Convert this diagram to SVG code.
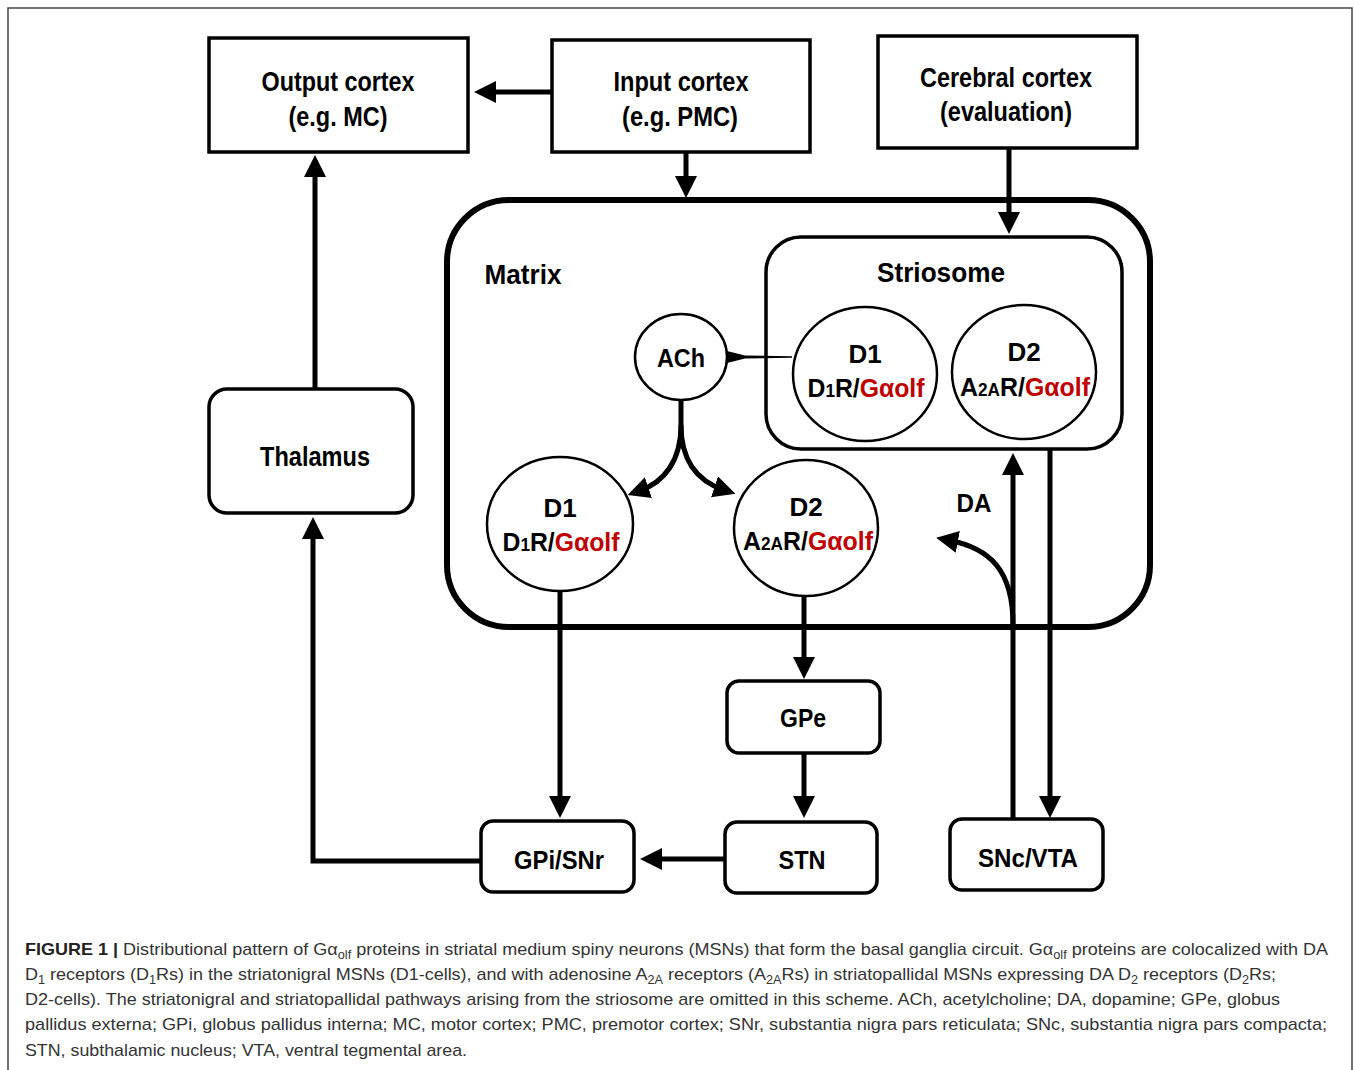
<svg xmlns="http://www.w3.org/2000/svg" width="1354" height="1070" viewBox="0 0 1354 1070">
<defs>
<style>
.box{fill:#fff;stroke:#000;stroke-width:3.5}
.cell{fill:#fff;stroke:#000;stroke-width:2.5}
.lbl{font-family:"Liberation Sans",Arial,sans-serif;font-weight:bold;fill:#000;text-anchor:middle}
.big{font-size:28px}
.mid{font-size:26px}
.red{fill:#c00000}
.wire{fill:none;stroke:#000;stroke-width:5}
.cap{font-family:"Liberation Sans",Arial,sans-serif;font-size:17px;fill:#333}
</style>
<marker id="ah" markerUnits="userSpaceOnUse" markerWidth="24" markerHeight="24" viewBox="0 0 24 24" refX="10" refY="11" orient="auto">
<path d="M0,0 L22,11 L0,22 z" fill="#000"/>
</marker>
</defs>
<rect width="1354" height="1070" fill="#fff"/>
<path d="M8,1070 V8 H1352 V1070" fill="none" stroke="#444" stroke-width="1.5"/>

<g id="output-cortex">
<rect class="box" x="209" y="38" width="259" height="114"/>
<text class="lbl big" x="338" y="91" textLength="153" lengthAdjust="spacingAndGlyphs">Output cortex</text>
<text class="lbl big" x="338" y="126" textLength="99" lengthAdjust="spacingAndGlyphs">(e.g. MC)</text>
</g>
<g id="input-cortex">
<rect class="box" x="552" y="40" width="258" height="112"/>
<text class="lbl big" x="681" y="91" textLength="135" lengthAdjust="spacingAndGlyphs">Input cortex</text>
<text class="lbl big" x="680" y="126" textLength="116" lengthAdjust="spacingAndGlyphs">(e.g. PMC)</text>
</g>
<g id="cerebral-cortex">
<rect class="box" x="878" y="36" width="259" height="112"/>
<text class="lbl big" x="1006" y="87" textLength="172" lengthAdjust="spacingAndGlyphs">Cerebral cortex</text>
<text class="lbl big" x="1006" y="121" textLength="132" lengthAdjust="spacingAndGlyphs">(evaluation)</text>
</g>
<g id="matrix">
<rect x="447" y="200" width="703" height="427" rx="62" fill="none" stroke="#000" stroke-width="6"/>
<text class="lbl big" x="523" y="284" textLength="77" lengthAdjust="spacingAndGlyphs">Matrix</text>
</g>
<g id="striosome">
<rect x="766" y="237" width="356" height="212" rx="35" fill="none" stroke="#000" stroke-width="3.5"/>
<text class="lbl big" x="941" y="282" textLength="128" lengthAdjust="spacingAndGlyphs">Striosome</text>
</g>
<g id="ach">
<ellipse class="cell" cx="681" cy="357" rx="46" ry="43"/>
<text class="lbl mid" x="681" y="367" textLength="48" lengthAdjust="spacingAndGlyphs">ACh</text>
</g>
<g id="striosome-d1">
<ellipse class="cell" cx="865" cy="374" rx="72" ry="67"/>
<text class="lbl mid" x="865" y="363">D1</text>
<text class="lbl mid" x="866" y="397" textLength="117" lengthAdjust="spacingAndGlyphs">D<tspan font-size="18">1</tspan>R/<tspan class="red">Gαolf</tspan></text>
</g>
<g id="striosome-d2">
<ellipse class="cell" cx="1024" cy="372" rx="72" ry="67"/>
<text class="lbl mid" x="1024" y="361">D2</text>
<text class="lbl mid" x="1025" y="396" textLength="130" lengthAdjust="spacingAndGlyphs">A<tspan font-size="18">2A</tspan>R/<tspan class="red">Gαolf</tspan></text>
</g>
<g id="matrix-d1">
<ellipse class="cell" cx="560" cy="524" rx="73" ry="67"/>
<text class="lbl mid" x="560" y="517">D1</text>
<text class="lbl mid" x="561" y="551" textLength="117" lengthAdjust="spacingAndGlyphs">D<tspan font-size="18">1</tspan>R/<tspan class="red">Gαolf</tspan></text>
</g>
<g id="matrix-d2">
<ellipse class="cell" cx="806" cy="528" rx="72" ry="68"/>
<text class="lbl mid" x="806" y="516">D2</text>
<text class="lbl mid" x="808" y="550" textLength="130" lengthAdjust="spacingAndGlyphs">A<tspan font-size="18">2A</tspan>R/<tspan class="red">Gαolf</tspan></text>
</g>
<g id="thalamus">
<rect class="box" x="209" y="389" width="204" height="124" rx="18"/>
<text class="lbl big" x="315" y="466" textLength="110" lengthAdjust="spacingAndGlyphs">Thalamus</text>
</g>
<g id="gpe">
<rect class="box" x="727" y="681" width="153" height="72" rx="12"/>
<text class="lbl mid" x="803" y="727" textLength="46" lengthAdjust="spacingAndGlyphs">GPe</text>
</g>
<g id="stn">
<rect class="box" x="725" y="822" width="152" height="71" rx="12"/>
<text class="lbl mid" x="802" y="869" textLength="47" lengthAdjust="spacingAndGlyphs">STN</text>
</g>
<g id="gpi-snr">
<rect class="box" x="481" y="821" width="153" height="71" rx="12"/>
<text class="lbl mid" x="559" y="869" textLength="90" lengthAdjust="spacingAndGlyphs">GPi/SNr</text>
</g>
<g id="snc-vta">
<rect class="box" x="950" y="819" width="153" height="71" rx="12"/>
<text class="lbl mid" x="1028" y="867" textLength="100" lengthAdjust="spacingAndGlyphs">SNc/VTA</text>
</g>
<g id="da-label">
<text class="lbl mid" x="974" y="512" textLength="35" lengthAdjust="spacingAndGlyphs">DA</text>
</g>

<g id="connectors">
<path class="wire" d="M552,92 H486" marker-end="url(#ah)"/>
<path class="wire" d="M686,152 V186" marker-end="url(#ah)"/>
<path class="wire" d="M1009,148 V222" marker-end="url(#ah)"/>
<path class="wire" d="M315,389 V167" marker-end="url(#ah)"/>
<path class="wire" d="M481,861 H313 V529" marker-end="url(#ah)"/>
<path class="wire" d="M560,592 V806" marker-end="url(#ah)"/>
<path class="wire" d="M804,597 V667" marker-end="url(#ah)"/>
<path class="wire" d="M804,753 V806" marker-end="url(#ah)"/>
<path class="wire" d="M725,859 H652" marker-end="url(#ah)"/>
<path class="wire" d="M1013,819 V465" marker-end="url(#ah)"/>
<path class="wire" d="M1050,449 V806" marker-end="url(#ah)"/>
<path class="wire" d="M1013,625 C1013,570 990,548 948,540" marker-end="url(#ah)"/>
<path class="wire" d="M681,400 V425 C681,460 665,482 639,491" marker-end="url(#ah)"/>
<path class="wire" d="M681,425 C681,460 697,481 724,490" marker-end="url(#ah)"/>
<polygon points="727,351 745,355.5 792,356.3 792,357.7 745,358.5 727,363" fill="#000"/>
</g>

<g id="caption">
<text class="cap" x="25" y="955" textLength="1303" lengthAdjust="spacingAndGlyphs"><tspan font-weight="bold" fill="#222">FIGURE 1 |</tspan> Distributional pattern of Gα<tspan font-size="12" dy="4">olf</tspan><tspan dy="-4"> proteins in striatal medium spiny neurons (MSNs) that form the basal ganglia circuit. Gα</tspan><tspan font-size="12" dy="4">olf</tspan><tspan dy="-4"> proteins are colocalized with DA</tspan></text>
<text class="cap" x="25" y="980" textLength="1251" lengthAdjust="spacingAndGlyphs">D<tspan font-size="12" dy="4">1</tspan><tspan dy="-4"> receptors (D</tspan><tspan font-size="12" dy="4">1</tspan><tspan dy="-4">Rs) in the striatonigral MSNs (D1-cells), and with adenosine A</tspan><tspan font-size="12" dy="4">2A</tspan><tspan dy="-4"> receptors (A</tspan><tspan font-size="12" dy="4">2A</tspan><tspan dy="-4">Rs) in striatopallidal MSNs expressing DA D</tspan><tspan font-size="12" dy="4">2</tspan><tspan dy="-4"> receptors (D</tspan><tspan font-size="12" dy="4">2</tspan><tspan dy="-4">Rs;</tspan></text>
<text class="cap" x="25" y="1005" textLength="1255" lengthAdjust="spacingAndGlyphs">D2-cells). The striatonigral and striatopallidal pathways arising from the striosome are omitted in this scheme. ACh, acetylcholine; DA, dopamine; GPe, globus</text>
<text class="cap" x="25" y="1030" textLength="1302" lengthAdjust="spacingAndGlyphs">pallidus externa; GPi, globus pallidus interna; MC, motor cortex; PMC, premotor cortex; SNr, substantia nigra pars reticulata; SNc, substantia nigra pars compacta;</text>
<text class="cap" x="25" y="1056" textLength="442" lengthAdjust="spacingAndGlyphs">STN, subthalamic nucleus; VTA, ventral tegmental area.</text>
</g>
</svg>
